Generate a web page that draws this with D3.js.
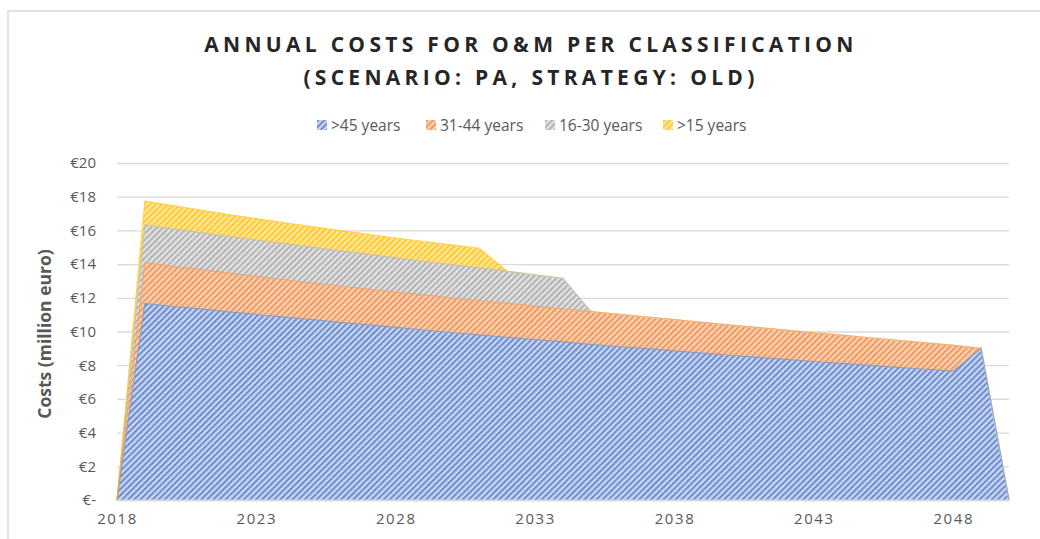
<!DOCTYPE html>
<html>
<head>
<meta charset="utf-8">
<script src="https://cdn.jsdelivr.net/npm/d3@7"></script>
<style>
  body { margin: 0; background: #fff; }
  text { font-family: 'Open Sans', 'Liberation Sans', sans-serif; }
</style>
</head>
<body>
<svg></svg>
<script>
// chart size and plot area
var width = 1040;
var height = 539;
var padding = {
  top: 163,
  right: 31,
  bottom: 39,
  left: 117
}

// data (million euro)
var years = [2018, 2019, 2020, 2021, 2022, 2023, 2024, 2025, 2026, 2027, 2028,
  2029, 2030, 2031, 2032, 2033, 2034, 2035, 2036, 2037, 2038,
  2039, 2040, 2041, 2042, 2043, 2044, 2045, 2046, 2047, 2048, 2049, 2050];
var over45 = [0, 11.67, 11.50, 11.34, 11.17, 11.01, 10.85, 10.70, 10.54, 10.39, 10.24,
  10.09, 9.94, 9.80, 9.66, 9.52, 9.38, 9.24, 9.11, 8.98, 8.85,
  8.72, 8.59, 8.47, 8.35, 8.22, 8.11, 7.99, 7.87, 7.76, 7.65, 9.00, 0];
var y31to44 = [0, 2.41, 2.37, 2.33, 2.29, 2.26, 2.22, 2.19, 2.16, 2.13, 2.10,
  2.08, 2.06, 2.04, 2.02, 1.99, 1.97, 1.94, 1.91, 1.88, 1.85,
  1.82, 1.79, 1.76, 1.73, 1.70, 1.67, 1.64, 1.61, 1.57, 1.53, 0, 0];
var y16to30 = [0, 2.24, 2.22, 2.20, 2.18, 2.16, 2.14, 2.12, 2.09, 2.06, 2.03,
  2.00, 1.97, 1.94, 1.90, 1.85, 1.81, 0, 0, 0, 0,
  0, 0, 0, 0, 0, 0, 0, 0, 0, 0, 0, 0];
var under15 = [0, 1.42, 1.38, 1.34, 1.30, 1.27, 1.24, 1.21, 1.20, 1.19, 1.18,
  1.17, 1.17, 1.16, 0, 0, 0, 0, 0, 0, 0,
  0, 0, 0, 0, 0, 0, 0, 0, 0, 0, 0, 0];

var seriesNames = ['>45 years', '31-44 years', '16-30 years', '>15 years'];
var seriesKeys = ['a', 'b', 'c', 'd'];
var xTicks = [2018, 2023, 2028, 2033, 2038, 2043, 2048];
var yTicks = [0, 2, 4, 6, 8, 10, 12, 14, 16, 18, 20];

// colours: [stripe, background, edge]
var colors = {
  a: ['#6d8dcf', '#c9d6ef', '#4472c4'],
  b: ['#f0995d', '#f9d2b6', '#ed7d31'],
  c: ['#b3b3b3', '#e2e2e2', '#a5a5a5'],
  d: ['#ffca2c', '#ffe7a0', '#ffc000']
}

var table = years.map(function(yr, i) {
  return { year: yr, a: over45[i], b: y31to44[i], c: y16to30[i], d: under15[i] };
});

var svg = d3.select('svg')
  .attr('width', width)
  .attr('height', height);

// hatch patterns
var defs = svg.append('defs');
seriesKeys.forEach(function(k) {
  var p = defs.append('pattern')
    .attr('id', 'hatch-' + k)
    .attr('patternUnits', 'userSpaceOnUse')
    .attr('width', 4.3)
    .attr('height', 4.3)
    .attr('patternTransform', 'rotate(45)');
  p.append('rect').attr('width', 4.3).attr('height', 4.3).attr('fill', colors[k][1]);
  p.append('rect').attr('width', 2).attr('height', 4.3).attr('fill', colors[k][0]);
});

// outer border of the chart
svg.append('rect')
  .attr('x', 8)
  .attr('y', 11)
  .attr('width', 1100)
  .attr('height', 600)
  .attr('fill', 'none')
  .attr('stroke', '#d9d9d9')
  .attr('stroke-width', 1.5);

var xScale = d3.scaleLinear()
  .domain([2018, 2050])
  .range([padding.left, width - padding.right]);

var yScale = d3.scaleLinear()
  .domain([0, 20])
  .range([height - padding.bottom, padding.top]);

// gridlines
var grid = d3.axisLeft(yScale)
  .tickValues(yTicks)
  .tickSize(-(width - padding.right - padding.left))
  .tickFormat('');

svg.append('g')
  .attr('transform', 'translate(' + padding.left + ',0)')
  .call(grid)
  .call(g => g.select('.domain').remove())
  .selectAll('line')
    .attr('stroke', '#d9d9d9')
    .attr('stroke-width', 1.3);

// stacked areas
var stack = d3.stack().keys(seriesKeys);
var layers = stack(table);

var area = d3.area()
  .x(d => xScale(d.data.year))
  .y0(d => yScale(d[0]))
  .y1(d => yScale(d[1]));

svg.append('g')
  .selectAll('path')
  .data(layers)
  .enter()
  .append('path')
    .attr('d', area)
    .attr('fill', d => 'url(#hatch-' + d.key + ')')
    .attr('stroke', d => colors[d.key][1])
    .attr('stroke-width', 0.6);

// top edge of each band, only where the band has some thickness
function thick(layer, i) {
  var t = j => (layer[j] ? layer[j][1] - layer[j][0] : 0);
  return t(i) > 0 || t(i - 1) > 0 || t(i + 1) > 0;
}

svg.append('g')
  .selectAll('path')
  .data(layers)
  .enter()
  .append('path')
    .attr('d', layer => d3.line()
      .defined((d, i) => thick(layer, i))
      .x(d => xScale(d.data.year))
      .y(d => yScale(d[1]))(layer))
    .attr('fill', 'none')
    .attr('stroke', d => colors[d.key][2])
    .attr('stroke-opacity', 0.55)
    .attr('stroke-width', 1.2);

// y axis labels
var yAxis = d3.axisLeft(yScale)
  .tickValues(yTicks)
  .tickSize(0)
  .tickPadding(21)
  .tickFormat(d => d === 0 ? '€-' : '€' + d);

svg.append('g')
  .attr('transform', 'translate(' + padding.left + ',0)')
  .call(yAxis)
  .call(g => g.select('.domain').remove())
  .selectAll('text')
    .style('font-size', '15px')
    .style('font-family', "'Open Sans', sans-serif")
    .attr('fill', '#595959');

// x axis
var xAxis = d3.axisBottom(xScale)
  .tickValues(xTicks)
  .tickSize(0)
  .tickPadding(13)
  .tickFormat(d3.format('d'));

svg.append('g')
  .attr('transform', 'translate(0,' + (height - padding.bottom) + ')')
  .call(xAxis)
  .call(g => g.select('.domain').attr('stroke', '#d9d9d9').attr('stroke-width', 1.3))
  .selectAll('text')
    .style('font-size', '15px')
    .style('font-family', "'Open Sans', sans-serif")
    .style('letter-spacing', '1.6px')
    .attr('fill', '#595959');

// y axis title
svg.append('text')
  .attr('transform', 'translate(51,334) rotate(-90)')
  .attr('text-anchor', 'middle')
  .style('font-size', '17.5px')
  .style('font-weight', 'bold')
  .attr('fill', '#595959')
  .text('Costs (million euro)');

// title
var title = svg.append('text')
  .attr('text-anchor', 'middle')
  .style('font-size', '21px')
  .style('font-weight', 'bold')
  .style('letter-spacing', '4.3px')
  .attr('fill', '#262626');
title.append('tspan').attr('x', 531).attr('y', 52).text('ANNUAL COSTS FOR O&M PER CLASSIFICATION');
title.append('tspan').attr('x', 531).attr('y', 85).text('(SCENARIO: PA, STRATEGY: OLD)');

// legend
var legendX = [317, 426, 545, 663];
var legend = svg.append('g')
  .selectAll('g')
  .data(seriesKeys)
  .enter()
  .append('g')
    .attr('transform', (d, i) => 'translate(' + legendX[i] + ',120)');

legend.append('rect')
  .attr('width', 10)
  .attr('height', 10)
  .attr('fill', d => 'url(#hatch-' + d + ')');

legend.append('text')
  .attr('x', 14)
  .attr('y', 10.5)
  .style('font-size', '15.5px')
  .attr('fill', '#595959')
  .text((d, i) => seriesNames[i]);
</script>
</body>
</html>
